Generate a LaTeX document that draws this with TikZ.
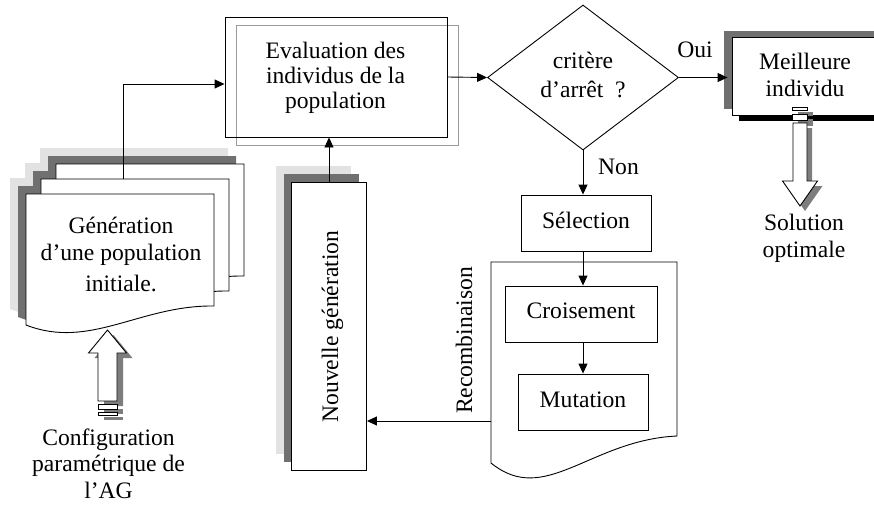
\documentclass[tikz,border=0pt]{standalone}
\usepackage{fontspec}
\setmainfont{Liberation Serif}
\usetikzlibrary{arrows.meta,shapes.geometric,shadows,calc}

\definecolor{shadowdark}{RGB}{112,112,112}
\definecolor{shadowlight}{RGB}{226,226,226}
\definecolor{framegray}{RGB}{155,155,155}
\definecolor{arrowshadow}{RGB}{125,125,125}

% multi-line labels are anchored on the baseline of their last line
\tikzset{
  lbl/.style={font=\fontsize{23.6}{27}\selectfont, inner sep=0pt, align=center, anchor=base},
  boxnode/.style={draw, line width=0.9pt, fill=white, inner sep=0pt, rectangle},
  conn/.style={line width=0.9pt, -{Triangle[length=10pt,width=9pt]}},
  stackshadow/.style={
    general shadow={fill=shadowlight, shadow xshift=-16pt, shadow yshift=16pt},
    general shadow={fill=shadowdark, shadow xshift=-8pt, shadow yshift=8pt}},
  % one sheet of the initial population stack
  sheet/.pic={\path[pic actions] (0,0) -- (188,0) -- (188,112)
      .. controls (114,111) and (64,156) .. (0,131) -- cycle;},
  % the recombination sheet
  recsheet/.pic={\path[pic actions] (0,0) -- (186,0) -- (186,174)
      .. controls (99,178) and (54,245) .. (0,201) -- cycle;},
  % hollow block arrow pointing down, origin at the top of its cap
  blockdown/.pic={
    \begin{scope}[shift={(5,5)}]
      \fill[arrowshadow] (-7.5,0) rectangle (7.5,3.5);
      \fill[arrowshadow] (-7.5,7) rectangle (7.5,13.5);
      \fill[arrowshadow] (-7,16) -- (7,16) -- (7,74) -- (17.5,74) -- (0,99)
        -- (-17.5,74) -- (-7,74) -- cycle;
    \end{scope}
    \draw[line width=0.9pt, fill=white] (-7.5,0) rectangle (7.5,3.5);
    \draw[line width=0.9pt, fill=white] (-7.5,7) rectangle (7.5,13.5);
    \draw[line width=0.9pt, fill=white] (-7,16) -- (7,16) -- (7,74) -- (17.5,74)
      -- (0,99) -- (-17.5,74) -- (-7,74) -- cycle;},
  % hollow block arrow pointing up, origin at the bottom of its cap
  blockup/.pic={
    \begin{scope}[shift={(6,5)}]
      \fill[arrowshadow] (-9.5,-3) rectangle (9.5,0);
      \fill[arrowshadow] (-9.5,-11) rectangle (9.5,-6);
      \fill[arrowshadow] (-9.5,-14) -- (9.5,-14) -- (9.5,-62) -- (19,-62) -- (0,-85)
        -- (-19,-62) -- (-9.5,-62) -- cycle;
    \end{scope}
    \draw[line width=0.9pt, fill=white] (-9.5,-3) rectangle (9.5,0);
    \draw[line width=0.9pt, fill=white] (-9.5,-11) rectangle (9.5,-6);
    \draw[line width=0.9pt, fill=white] (-9.5,-14) -- (9.5,-14) -- (9.5,-62) -- (19,-62)
      -- (0,-85) -- (-19,-62) -- (-9.5,-62) -- cycle;},
}

\begin{document}
\begin{tikzpicture}[x=1pt,y=-1pt]
\useasboundingbox (0,0) rectangle (874,504);
\clip (0,0) rectangle (874,504);

% ---- initial population: stack of three sheets with a double shadow
\pic[fill=shadowlight] at (40,148) {sheet};
\pic[fill=shadowlight] at (25,163) {sheet};
\pic[fill=shadowlight] at (10,178) {sheet};
\pic[fill=shadowdark] at (48,156) {sheet};
\pic[fill=shadowdark] at (33,171) {sheet};
\pic[fill=shadowdark] at (18,186) {sheet};
\pic[draw, line width=0.9pt, fill=white] at (56,164) {sheet};
\pic[draw, line width=0.9pt, fill=white] at (41,179) {sheet};
\pic[draw, line width=0.9pt, fill=white] at (26,194) {sheet};
\coordinate (genout) at (123,179);
\node[lbl, font=\fontsize{23.6}{27.3}\selectfont] (gentxt) at (121,291.7)
  {Génération\\d’une population\\[4pt]initiale.};

% ---- evaluation
\node[rectangle, draw=framegray, line width=0.9pt, minimum width=222pt, minimum height=120pt,
  inner sep=0pt] (evalback) at (347,85) {};
\node[rectangle, draw, line width=0.9pt, minimum width=222pt, minimum height=120pt,
  inner sep=0pt] (eval) at (336,77) {};
\node[lbl, font=\fontsize{23.6}{25}\selectfont] (evaltxt) at (335.5,108.3)
  {Evaluation des\\individus de la\\population};

% ---- stopping test
\node[diamond, draw, line width=0.9pt, minimum width=191pt, minimum height=145pt,
  inner sep=0pt] (crit) at (583,77.5) {};
\node[lbl, font=\fontsize{23.6}{29}\selectfont] (crittxt) at (583,97)
  {critère\\d’arrêt~~?};

% ---- best individual
\node[boxnode, minimum width=168pt, minimum height=78pt,
  general shadow={fill=black, shadow xshift=7pt, shadow yshift=-5.5pt},
  general shadow={fill=shadowdark, shadow xshift=-8.5pt, shadow yshift=6pt}]
  (best) at (816,76) {};
\node[lbl] (besttxt) at (805,96) {Meilleure\\individu};
\pic at (800,107) {blockdown};
\node[lbl] (soltxt) at (804,257) {Solution\\optimale};

% ---- selection and recombination
\node[boxnode, minimum width=130pt, minimum height=56pt] (sel) at (586,223) {};
\node[lbl] (seltxt) at (586,228) {Sélection};
\pic[draw, line width=0.9pt, fill=white] at (491,262) {recsheet};
\coordinate (recout) at (491,421);
\node[boxnode, minimum width=152pt, minimum height=56pt] (cro) at (581,314) {};
\node[lbl] (crotxt) at (581,318) {Croisement};
\node[boxnode, minimum width=130pt, minimum height=56pt] (mut) at (583,402) {};
\node[lbl] (muttxt) at (583,407) {Mutation};
\node[lbl, rotate=90] (rectxt) at (472,340.5) {Recombinaison};

% ---- new generation
\node[boxnode, stackshadow, minimum width=75pt, minimum height=288pt] (newgen) at (329,326) {};
\node[lbl, rotate=90] (newgentxt) at (338,326.5) {Nouvelle génération};

% ---- parameter setting
\pic at (107.5,415) {blockup};
\node[lbl, font=\fontsize{23.6}{26.5}\selectfont] (conftxt) at (108.5,498)
  {Configuration\\paramétrique de\\l’AG};

% ---- connectors
\draw[conn] (genout) |- ($(eval.west)+(0,7)$);
\draw[conn] (eval.east) -- (crit.west);
\draw[conn, shorten >=4pt] (crit.east) -- (crit.east -| best.west);
\node[lbl] (oui) at (695,57) {Oui};
\draw[conn] (crit.south) -- (crit.south |- sel.north);
\node[lbl] (non) at (618.5,174) {Non};
\draw[conn] (crit.south |- sel.south) -- (crit.south |- cro.north);
\draw[conn] (crit.south |- cro.south) -- (crit.south |- mut.north);
\draw[conn] (recout) -- (recout -| newgen.east);
\draw[conn] (newgen.north) -- (newgen.north |- eval.south);
\end{tikzpicture}
\end{document}
